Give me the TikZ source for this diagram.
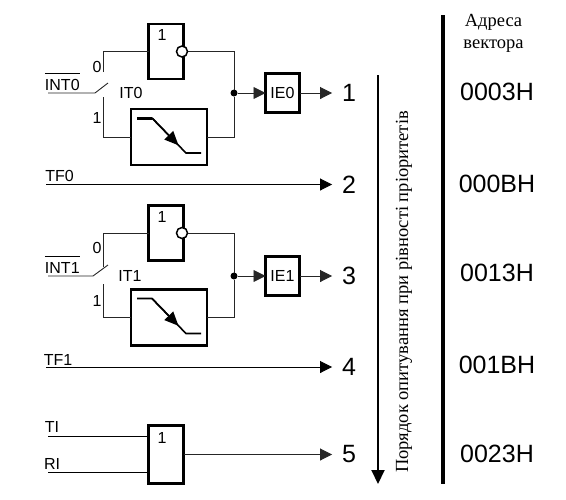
\documentclass[tikz,border=0pt]{standalone}
\usepackage{fontspec}
\setmainfont{Liberation Sans}
\newfontfamily\serifcyr{Liberation Serif}
\usetikzlibrary{arrows.meta,positioning,calc}
\tikzset{
  gate/.style={draw,line width=2.4pt,minimum width=35pt,minimum height=55pt,outer sep=0pt,inner sep=0pt},
  delaybox/.style={draw,line width=2.4pt,minimum width=76pt,minimum height=56pt,outer sep=0pt,inner sep=0pt},
  enablebox/.style={draw,line width=2.4pt,minimum width=34pt,minimum height=39pt,outer sep=0pt,inner sep=0pt,font=\fontsize{16}{16}\selectfont},
  bubble/.style={circle,draw,fill=white,line width=1.5pt,minimum size=11pt,inner sep=0pt,outer sep=0pt},
  junction/.style={circle,fill=black,minimum size=7pt,inner sep=0pt,outer sep=0pt},
  wire/.style={line width=0.9pt,black!85},
  arrowline/.style={wire,-{Triangle[length=12pt,width=12pt]}},
  ramp/.style={line width=1.6pt},
  signal/.style={inner sep=0pt,outer sep=0pt,font=\fontsize{16}{16}\selectfont},
  priority/.style={inner sep=0pt,outer sep=10pt,font=\fontsize{25}{25}\selectfont},
  address/.style={inner sep=0pt,outer sep=0pt,font=\fontsize{25}{25}\selectfont},
  caption/.style={inner sep=0pt,outer sep=0pt,font=\serifcyr\fontsize{18.5}{18.5}\selectfont}
}
\begin{document}
\begin{tikzpicture}[x=1pt,y=-1pt]
  \useasboundingbox (0,0) rectangle (566,499);
  % INT0 channel
  \node[gate] (not0) at (166,51.5) {};
  \node[signal] (not0one) at (162,35) {1};
  \node[bubble] (bub0) at ([xshift=-1.5pt]not0.east) {};
  \node[delaybox,below=30pt of not0,xshift=3pt] (delay0) {};
  \node[junction] (dot0) at (234,93) {};
  \node[enablebox,right=28pt of dot0] (ie0) {IE0};
  \node[priority] (one) at (349,93) {1};
  \node[signal,anchor=base west] (int0) at (45,90)
    {$\overline{\rule{0pt}{15.5pt}\mbox{INT0}}$};
  \node[signal] (it0) at (131,93) {IT0};
  \node[signal] (sel00) at (97,67) {0};
  \node[signal] (sel01) at (97,118) {1};
  \coordinate (in0) at (48,93);
  \coordinate (pole0) at (95,93);
  \coordinate (blade0) at (108,83);
  \coordinate (top0) at (103,72);
  \coordinate (low0) at (103,97);

  \draw[wire] (in0) -- (pole0) -- (blade0);
  \draw[wire] (top0) |- (not0.west);
  \draw[wire] (low0) |- (delay0.west);
  \draw[wire] (bub0.east) -| (dot0.north);
  \draw[wire] (delay0.east) -| (dot0.south);
  \draw[arrowline] (dot0) -- (ie0.west);
  \draw[arrowline] (ie0.east) -- (one.west);
  \coordinate (r0a) at ([shift={(6,9)}]delay0.north west);
  \coordinate (r0b) at ([shift={(21,9)}]delay0.north west);
  \coordinate (r0c) at ([shift={(55,44)}]delay0.north west);
  \coordinate (r0d) at ([shift={(70,44)}]delay0.north west);
  \draw[ramp] (r0b) -- (r0c) -- (r0d);
  \draw[line width=3pt] (r0a) -- (r0b);
  \draw[ramp,-{Triangle[length=14pt,width=12pt]}] (r0b) -- ($(r0b)!0.78!(r0c)$);

  % TF0
  \coordinate (tf0in) at (46,184.5);
  \node[priority] (two) at (349,184.5) {2};
  \node[signal] (tf0) at (59.5,175.5) {TF0};
  \draw[arrowline,black] (tf0in) -- (two.west);

  % INT1 channel
  \node[gate] (not1) at (166,233) {};
  \node[signal] (not1one) at (162,217) {1};
  \node[bubble] (bub1) at ([xshift=-1.5pt]not1.east) {};
  \node[delaybox,below=29pt of not1,xshift=3pt] (delay1) {};
  \node[junction] (dot1) at (234,276) {};
  \node[enablebox,right=28pt of dot1] (ie1) {IE1};
  \node[priority] (three) at (349,276) {3};
  \node[signal,anchor=base west] (int1) at (45,273)
    {$\overline{\rule{0pt}{15.5pt}\mbox{INT1}}$};
  \node[signal] (it1) at (130,276) {IT1};
  \node[signal] (sel10) at (97,248) {0};
  \node[signal] (sel11) at (97,301) {1};
  \coordinate (in1) at (48,276);
  \coordinate (pole1) at (93,276);
  \coordinate (blade1) at (108,265);
  \coordinate (top1) at (103,267);
  \coordinate (low1) at (103,284);

  \draw[wire] (in1) -- (pole1) -- (blade1);
  \draw[wire] (top1) |- (not1.west);
  \draw[wire] (low1) |- (delay1.west);
  \draw[wire] (bub1.east) -| (dot1.north);
  \draw[wire] (delay1.east) -| (dot1.south);
  \draw[arrowline] (dot1) -- (ie1.west);
  \draw[arrowline] (ie1.east) -- (three.west);
  \coordinate (r1a) at ([shift={(6,9)}]delay1.north west);
  \coordinate (r1b) at ([shift={(21,9)}]delay1.north west);
  \coordinate (r1c) at ([shift={(55,44)}]delay1.north west);
  \coordinate (r1d) at ([shift={(70,44)}]delay1.north west);
  \draw[ramp] (r1a) -- (r1b) -- (r1c) -- (r1d);
  \draw[ramp,-{Triangle[length=14pt,width=12pt]}] (r1b) -- ($(r1b)!0.78!(r1c)$);

  % TF1
  \coordinate (tf1in) at (46,367);
  \node[priority] (four) at (349,367) {4};
  \node[signal] (tf1) at (58,359.5) {TF1};
  \draw[arrowline,black] (tf1in) -- (four.west);

  % TI, RI
  \node[gate,minimum height=58pt] (orgate) at (166,454.5) {};
  \node[signal] (orone) at (162,438) {1};
  \node[priority] (five) at (349,454.5) {5};
  \node[signal] (ti) at (52,427) {TI};
  \node[signal] (ri) at (52,464) {RI};
  \coordinate (tiin) at (48,436);
  \coordinate (riin) at (48,472);
  \draw[wire,black] (tiin) -- (tiin -| orgate.west);
  \draw[wire,black] (riin) -- (riin -| orgate.west);
  \draw[arrowline] (orgate.east) -- (five.west);

  % order arrow, divider
  \coordinate (ordertop) at (378,75);
  \coordinate (orderend) at (378,484);
  \draw[line width=2pt,-{Triangle[length=14pt,width=13pt]}] (ordertop) -- (orderend);
  \node[caption,rotate=90] (order) at (404,292) {Порядок опитування при рівності пріоритетів};
  \coordinate (bartop) at (443,15);
  \coordinate (barend) at (443,484);
  \draw[line width=3.4pt] (bartop) -- (barend);

  % vector addresses
  \node[caption] (addr) at (493.5,22) {Адреса};
  \node[caption,below=10pt of addr] (vect) {вектора};
  \node[address] (a1) at (497,92) {0003H};
  \node[address] (a2) at (497,184) {000BH};
  \node[address] (a3) at (497,273) {0013H};
  \node[address] (a4) at (497,365) {001BH};
  \node[address] (a5) at (497,454) {0023H};
\end{tikzpicture}
\end{document}
